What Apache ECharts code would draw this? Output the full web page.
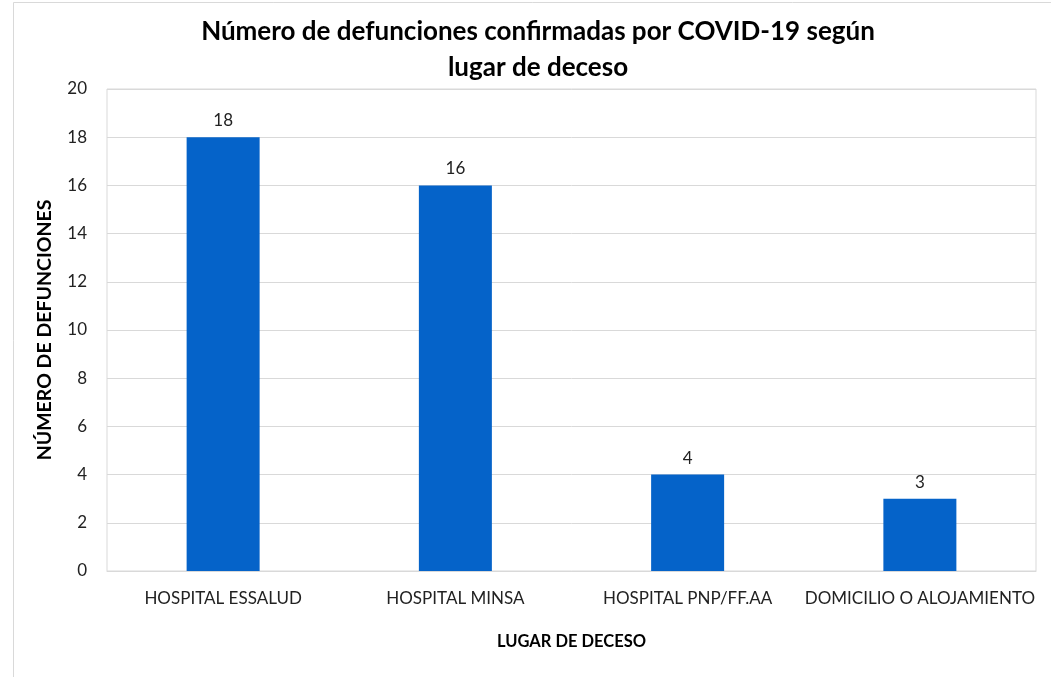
<!DOCTYPE html>
<html>
<head>
<meta charset="utf-8">
<script src="https://cdn.jsdelivr.net/npm/echarts@6/dist/echarts.min.js"></script>
<style>
  html, body { margin: 0; padding: 0; background: #fff; }
  #main { width: 1051px; height: 677px; }
</style>
</head>
<body>
<div id="main"></div>
<script>
// datos
const lugares = ['HOSPITAL ESSALUD', 'HOSPITAL MINSA', 'HOSPITAL PNP/FF.AA', 'DOMICILIO O ALOJAMIENTO']
const defunciones = [18, 16, 4, 3]
const yMin = 0
const yMax = 20
const yPaso = 2

const fuente = 'Lato, "Liberation Sans", sans-serif'

const myChart = echarts.init(document.getElementById('main'))
myChart.setOption({
  animation: false,
  backgroundColor: '#fff',
  title: {
    text: 'Número de defunciones confirmadas por COVID-19 según\nlugar de deceso',
    left: 533,
    textAlign: 'center',
    top: 9,
    textStyle: {
      fontFamily: fuente,
      fontWeight: 'bold',
      fontSize: 26,
      lineHeight: 36,
      color: '#000'
    }
  },
  graphic: [{
    type: 'rect',
    shape: { x: 13.5, y: 2.5, width: 1060, height: 700 },
    style: { fill: 'none', stroke: '#d9d9d9', lineWidth: 1 },
    silent: true
  }],
  grid: {
    left: 107,
    right: 15,
    top: 89,
    bottom: 106,
    show: true,
    borderColor: '#d9d9d9',
    borderWidth: 1
  },
  xAxis: {
    type: 'category',
    data: lugares,
    name: 'LUGAR DE DECESO',
    nameLocation: 'middle',
    nameGap: 62,
    nameTextStyle: { fontFamily: fuente, fontWeight: 'bold', fontSize: 16.5, color: '#000' },
    axisLine: { lineStyle: { color: '#d9d9d9' } },
    axisTick: { show: false },
    axisLabel: { interval: 0, fontFamily: fuente, fontSize: 17, color: '#222', margin: 19 }
  },
  yAxis: {
    type: 'value',
    min: yMin,
    max: yMax,
    interval: yPaso,
    name: 'NÚMERO DE DEFUNCIONES',
    nameLocation: 'middle',
    nameGap: 52,
    nameTextStyle: { fontFamily: fuente, fontWeight: 'bold', fontSize: 19.5, color: '#000' },
    axisLine: { show: false },
    axisTick: { show: false },
    splitLine: { lineStyle: { color: '#d9d9d9' } },
    axisLabel: { fontFamily: fuente, fontSize: 17, color: '#222', margin: 20 }
  },
  series: [{
    type: 'bar',
    data: defunciones,
    barWidth: 73,
    itemStyle: { color: '#0563C9' },
    label: {
      show: true,
      position: 'top',
      distance: 8,
      fontFamily: fuente,
      fontSize: 17,
      color: '#222'
    }
  }]
})
</script>
</body>
</html>
